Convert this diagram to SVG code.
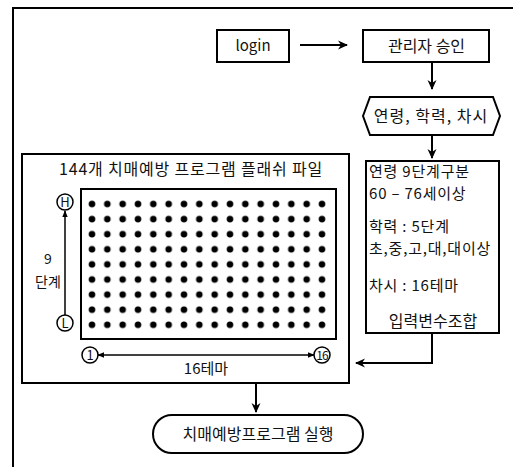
<svg xmlns="http://www.w3.org/2000/svg" width="513" height="467" viewBox="0 0 513 467">
<style>
text{font-family:"Noto Sans CJK KR","Noto Sans",sans-serif;font-size:16px;fill:#111}
.b{fill:#fff;stroke:#000;stroke-width:2}
.c{fill:#fff;stroke:#000;stroke-width:1.5}
.ln{fill:none;stroke:#000;stroke-width:2}
.t{fill:none;stroke:#000;stroke-width:1.5}
.m{text-anchor:middle}
.s{font-size:13px}
.i{font-size:15px;letter-spacing:0.8px}
</style>
<defs>
<marker id="ah" viewBox="0 0 10 10" refX="9" refY="5" markerWidth="10" markerHeight="10" markerUnits="userSpaceOnUse" orient="auto-start-reverse">
<path d="M0,0.5 L10,5 L0,9.5 L3,5 Z" fill="#000"/>
</marker>
<marker id="sh" viewBox="0 0 10 10" refX="9" refY="5" markerWidth="7" markerHeight="7" markerUnits="userSpaceOnUse" orient="auto-start-reverse">
<path d="M0,1 L10,5 L0,9 Z" fill="#000"/>
</marker>
<pattern id="dot" x="84.33" y="196.45" width="15.333" height="15.1" patternUnits="userSpaceOnUse">
<circle cx="7.667" cy="7.55" r="3.3" fill="#000"/>
</pattern>
</defs>
<path class="ln" d="M513,8 H13 V467" stroke-width="2.5"/>
<g id="connectors">
<line class="ln" x1="300" y1="45" x2="347" y2="45" marker-end="url(#ah)"/>
<line class="ln" x1="432" y1="62" x2="432" y2="89" marker-end="url(#ah)"/>
<line class="ln" x1="432" y1="135" x2="432" y2="158" marker-end="url(#ah)"/>
<path class="ln" d="M432,333 V363 H356" marker-end="url(#ah)"/>
<line class="ln" x1="256" y1="384" x2="256" y2="412" marker-end="url(#ah)"/>
</g>
<g id="login">
<rect class="b" x="217" y="30" width="72" height="32"/>
<text class="m" x="253" y="51" style="font-size:15px">login</text>
</g>
<g id="approve">
<rect class="b" x="363" y="30" width="126" height="32"/>
<text class="m" x="426.5" y="52">관리자 승인</text>
</g>
<g id="input">
<polygon class="b" points="363,116 370,97 493,97 500,116 493,135 370,135"/>
<text class="m" x="431" y="122" style="letter-spacing:1px">연령, 학력, 차시</text>
</g>
<g id="info">
<rect class="b" x="366" y="161" width="133" height="172"/>
<text class="i" x="369" y="177">연령 9단계구분</text>
<text class="i" x="369" y="199">60 – 76세이상</text>
<text class="i" x="369" y="232">학력 : 5단계</text>
<text class="i" x="369" y="254">초,중,고,대,대이상</text>
<text class="i" x="369" y="291">차시 : 16테마</text>
<text class="m" x="433" y="327">입력변수조합</text>
</g>
<g id="flash">
<rect class="b" x="22" y="154" width="327" height="229" stroke-width="2.5"/>
<text class="m" x="191" y="175" style="letter-spacing:0.8px">144개 치매예방 프로그램 플래쉬 파일</text>
<rect class="b" x="81" y="189" width="255" height="150"/>
<rect id="dots" x="84.33" y="196.45" width="245.33" height="135.9" fill="url(#dot)"/>
<circle class="c" cx="65" cy="202" r="8"/>
<text class="m s" x="65" y="207">H</text>
<circle class="c" cx="65" cy="323" r="8"/>
<text class="m s" x="65" y="328">L</text>
<line class="t" x1="65" y1="315" x2="65" y2="211" marker-end="url(#sh)"/>
<text class="m" x="48" y="264" style="font-size:14px">9</text>
<text class="m" x="48" y="287" style="font-size:14px">단계</text>
<circle class="c" cx="90" cy="355" r="8"/>
<text class="m s" x="90" y="360">1</text>
<circle class="c" cx="322" cy="355" r="8"/>
<text class="m" x="322" y="360" style="font-size:12px;letter-spacing:-1px">16</text>
<line class="t" x1="98" y1="355" x2="314" y2="355" marker-start="url(#sh)" marker-end="url(#sh)"/>
<text class="m" x="206" y="374" style="font-size:15px">16테마</text>
</g>
<g id="run">
<rect class="b" x="153" y="415" width="210" height="38" rx="19" ry="19"/>
<text class="m" x="258" y="440">치매예방프로그램 실행</text>
</g>
</svg>
